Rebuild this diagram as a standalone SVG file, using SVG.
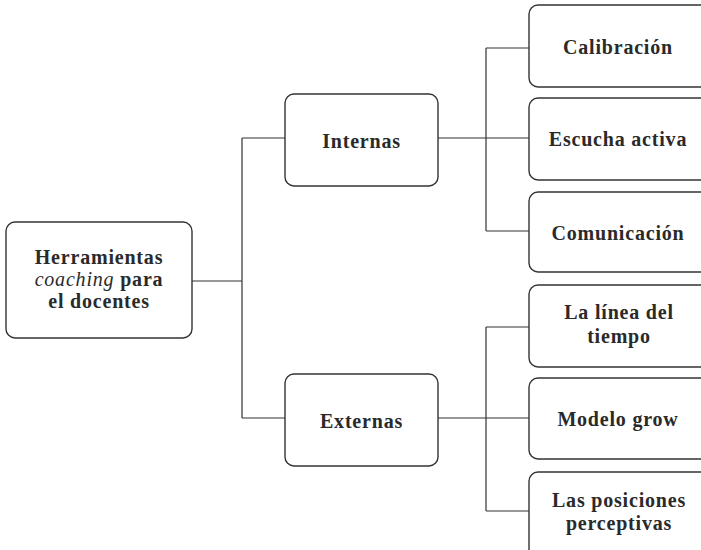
<svg xmlns="http://www.w3.org/2000/svg" width="701" height="550" viewBox="0 0 701 550">
<style>
.box{fill:#fff;stroke:#333;stroke-width:1.4}
.t{font-family:"Liberation Serif",serif;font-weight:bold;font-size:20px;letter-spacing:0.8px;fill:#2a2a2a;text-anchor:middle}
.c{fill:none;stroke:#333;stroke-width:1.2}
</style>
<rect width="701" height="550" fill="#fff"/>
<g id="connectors">
<path class="c" d="M192 281H242M242 138V418M242 138H285M242 418H285"/>
<path class="c" d="M438 138H529M486 48V231M486 48H529M486 231H529"/>
<path class="c" d="M438 418H529M486 327V511M486 327H529M486 511H529"/>
</g>
<g id="root">
<rect class="box" x="6" y="222" width="186" height="116" rx="9"/>
<text class="t" x="99" y="264">Herramientas</text>
<text class="t" x="99" y="286"><tspan font-style="italic" font-weight="normal">coaching</tspan> para</text>
<text class="t" x="99" y="308">el docentes</text>
</g>
<g id="internas">
<rect class="box" x="285" y="94" width="153" height="92" rx="9"/>
<text class="t" x="361.5" y="147.5">Internas</text>
</g>
<g id="externas">
<rect class="box" x="285" y="374" width="153" height="92" rx="9"/>
<text class="t" x="361.5" y="427.5">Externas</text>
</g>
<g id="calibracion">
<rect class="box" x="529" y="5" width="180" height="82" rx="9"/>
<text class="t" x="618" y="54">Calibración</text>
</g>
<g id="escucha">
<rect class="box" x="529" y="98" width="180" height="82" rx="9"/>
<text class="t" x="618" y="146">Escucha activa</text>
</g>
<g id="comunicacion">
<rect class="box" x="529" y="192" width="180" height="80" rx="9"/>
<text class="t" x="618" y="240">Comunicación</text>
</g>
<g id="linea">
<rect class="box" x="529" y="285" width="180" height="82" rx="9"/>
<text class="t" x="619" y="319">La línea del</text>
<text class="t" x="619" y="343">tiempo</text>
</g>
<g id="grow">
<rect class="box" x="529" y="378" width="180" height="81" rx="9"/>
<text class="t" x="618" y="426">Modelo grow</text>
</g>
<g id="posiciones">
<rect class="box" x="529" y="472" width="180" height="90" rx="9"/>
<text class="t" x="619" y="507">Las posiciones</text>
<text class="t" x="619" y="530">perceptivas</text>
</g>
</svg>
